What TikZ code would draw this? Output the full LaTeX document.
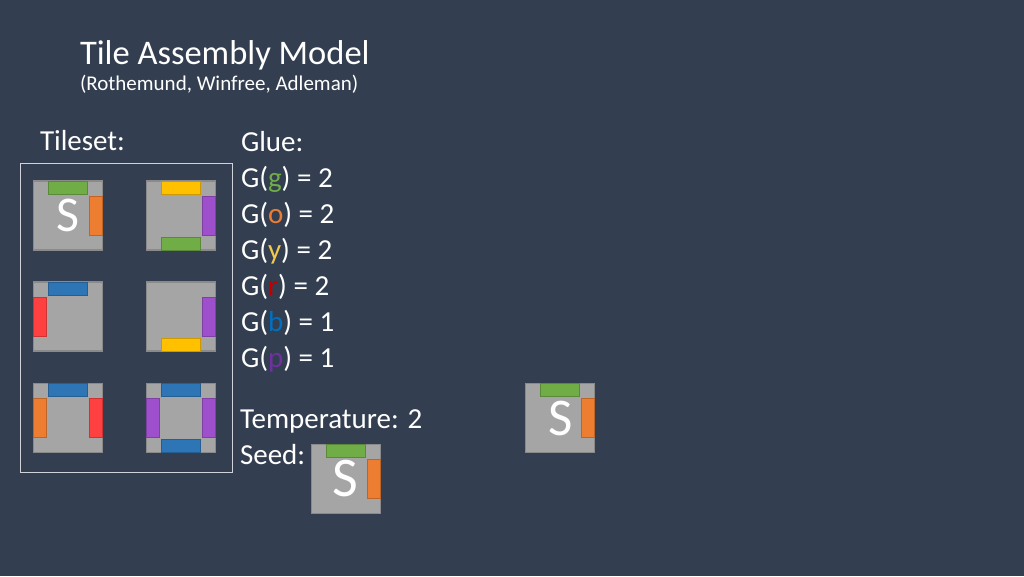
\documentclass[tikz,border=0pt]{standalone}
\usepackage{fontspec}
\setmainfont{Carlito}
\definecolor{bg}{HTML}{333F50}
\definecolor{tilegray}{HTML}{A5A5A5}
\definecolor{tileedge}{HTML}{8A8A8A}
\definecolor{boxedge}{HTML}{D0D4DA}
\definecolor{gG}{HTML}{70AD47}
\definecolor{gO}{HTML}{ED7D31}
\definecolor{gY}{HTML}{FFC000}
\definecolor{gR}{HTML}{FF4040}
\definecolor{gB}{HTML}{2E75B6}
\definecolor{gP}{HTML}{9E50CC}
\definecolor{tY}{HTML}{F2C94C}
\definecolor{tR}{HTML}{C00000}
\definecolor{tB}{HTML}{0070C0}
\definecolor{tP}{HTML}{7030A0}
\begin{document}
\begin{tikzpicture}[x=1pt,y=-1pt,
  every node/.style={inner sep=0pt,outer sep=0pt,text=white},
  tile/.style={draw=tileedge,fill=tilegray,line width=1.2pt,minimum size=69pt,font=\fontsize{50}{50}\selectfont},
  bar/.style={fill=#1,draw=#1!80!black,line width=0.8pt},
  hbar/.style={bar=#1,minimum width=39pt,minimum height=13pt},
  vbar/.style={bar=#1,minimum width=13pt,minimum height=39pt},
  txt/.style={anchor=base west,font=\fontsize{29}{34}\selectfont}]
\fill[bg] (0,0) rectangle (1024,576);
\useasboundingbox (0,0) rectangle (1024,576);
% heading
\node[txt,font=\fontsize{34.5}{40}\selectfont] (title) at (80,64) {Tile Assembly Model};
\node[txt,font=\fontsize{21}{24}\selectfont] (sub) at (80,90) {(Rothemund, Winfree, Adleman)};
% tileset
\node[txt] (tileset) at (40,150) {Tileset:};
\node[draw=boxedge,line width=1pt,minimum width=212pt,minimum height=309pt] (set) at (126,317.5) {};
\node[tile] (t1) at (68,215.5) {S};
\node[tile] (t2) at (180.7,215.5) {};
\node[tile] (t3) at (68,316.5) {};
\node[tile] (t4) at (180.7,316.5) {};
\node[tile] (t5) at (68,418) {};
\node[tile] (t6) at (180.7,418) {};
\node[hbar=gG,anchor=north] at (t1.north) {};
\node[vbar=gO,anchor=east] at (t1.east) {};
\node[hbar=gY,anchor=north] at (t2.north) {};
\node[vbar=gP,anchor=east] at (t2.east) {};
\node[hbar=gG,anchor=south] at (t2.south) {};
\node[hbar=gB,anchor=north] at (t3.north) {};
\node[vbar=gR,anchor=west] at (t3.west) {};
\node[vbar=gP,anchor=east] at (t4.east) {};
\node[hbar=gY,anchor=south] at (t4.south) {};
\node[hbar=gB,anchor=north] at (t5.north) {};
\node[vbar=gO,anchor=west] at (t5.west) {};
\node[vbar=gR,anchor=east] at (t5.east) {};
\node[hbar=gB,anchor=north] at (t6.north) {};
\node[vbar=gP,anchor=west] at (t6.west) {};
\node[vbar=gP,anchor=east] at (t6.east) {};
\node[hbar=gB,anchor=south] at (t6.south) {};
% glue strengths
\node[txt] (glue) at (241,151) {Glue:};
\node[txt] (g1) at (241,187) {G(\textcolor{gG}{g}) = 2};
\node[txt] (g2) at (241,223) {G(\textcolor{gO}{o}) = 2};
\node[txt] (g3) at (241,259) {G(\textcolor{tY}{y}) = 2};
\node[txt] (g4) at (241,295) {G(\textcolor{tR}{r}) = 2};
\node[txt] (g5) at (241,331) {G(\textcolor{tB}{b}) = 1};
\node[txt] (g6) at (241,367) {G(\textcolor{tP}{p}) = 1};
% temperature and seed
\node[txt] (temp) at (240,428) {Temperature: 2};
\node[txt] (seed) at (240,464) {Seed:};
\node[tile,font=\fontsize{56}{56}\selectfont] (s0) at (345.7,478.7) {S};
\node[hbar=gG,anchor=north] at (s0.north) {};
\node[vbar=gO,anchor=east] at (s0.east) {};
% assembly
\node[tile,font=\fontsize{53}{53}\selectfont] (a1) at (560.3,418) {S};
\node[hbar=gG,anchor=north] at (a1.north) {};
\node[vbar=gO,anchor=east] at (a1.east) {};
\end{tikzpicture}
\end{document}
